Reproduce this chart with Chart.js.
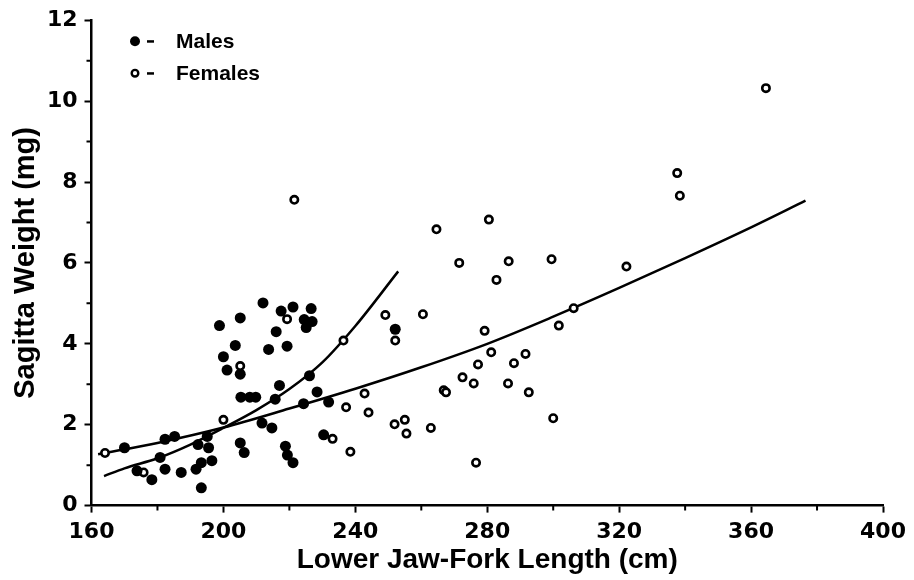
<!DOCTYPE html>
<html>
<head>
<meta charset="utf-8">
<script src="https://cdn.jsdelivr.net/npm/chart.js@4.4.1/dist/chart.umd.min.js"></script>
<style>
  html, body { margin: 0; padding: 0; background: #fff; }
</style>
</head>
<body>
<canvas id="chart" width="914" height="580"></canvas>
<script>
// values
const maleX = [170.0, 182.3, 185.2, 180.8, 173.8, 178.3, 182.3, 187.2, 191.7, 193.3,
  196.5, 195.5, 192.3, 195.1, 193.3, 211.7, 214.7, 205.1, 206.3, 218.8,
  219.4, 221.1, 230.4, 224.3, 212.0, 205.1, 198.8, 217.5, 221.1, 226.6,
  224.5, 226.9, 225.1, 216.0, 203.6, 213.7, 219.3, 200.0, 201.1, 205.1,
  205.3, 208.0, 209.8, 217.0, 215.7, 226.1, 228.4, 231.9, 252.1];
const maleY = [1.43, 1.64, 1.71, 1.19, 0.86, 0.64, 0.90, 0.82, 0.90, 1.06,
  1.11, 1.43, 1.51, 1.71, 0.44, 2.04, 1.92, 1.55, 1.31, 1.47,
  1.25, 1.06, 1.75, 2.52, 5.01, 4.64, 4.45, 4.81, 4.91, 4.87,
  4.60, 4.55, 4.40, 4.30, 3.96, 3.86, 3.94, 3.68, 3.35, 3.25,
  2.68, 2.68, 2.68, 2.97, 2.63, 3.21, 2.81, 2.56, 4.36];

const femaleX = [164.1, 175.8, 200.0, 219.3, 205.1, 221.5, 249.1, 252.1, 236.4, 242.8,
  237.2, 244.0, 251.9, 255.0, 255.5, 233.1, 238.5, 264.6, 280.5, 271.5,
  286.5, 282.8, 299.5, 260.5, 279.2, 306.2, 301.7, 281.2, 291.6, 277.2,
  288.1, 272.5, 275.9, 286.3, 292.6, 266.8, 267.5, 300.0, 276.6, 262.9,
  364.5, 337.6, 338.4, 322.2];
const femaleY = [1.30, 0.82, 2.12, 4.61, 3.45, 7.56, 4.71, 4.08, 4.08, 2.77,
  2.43, 2.30, 2.01, 2.12, 1.78, 1.65, 1.33, 6.83, 7.07, 6.00,
  6.04, 5.58, 6.09, 4.73, 4.32, 4.88, 4.45, 3.79, 3.75, 3.49,
  3.52, 3.17, 3.02, 3.02, 2.80, 2.85, 2.80, 2.16, 1.06, 1.92,
  10.32, 8.22, 7.66, 5.91];

// fitted curves as drawn in the figure
const maleFitX = [163.8, 170, 180, 190, 200, 210, 220, 230, 240, 253];
const maleFitY = [0.73, 0.92, 1.17, 1.51, 1.92, 2.36, 2.88, 3.54, 4.44, 5.79];
const femaleFitX = [162, 180, 200, 220, 240, 260, 280, 300, 320, 340, 360, 376.5];
const femaleFitY = [1.27, 1.55, 1.93, 2.40, 2.89, 3.42, 4.00, 4.67, 5.38, 6.12, 6.88, 7.54];

const xTicks = [160, 200, 240, 280, 320, 360, 400];
const yTicks = [0, 2, 4, 6, 8, 10, 12];
const xMinor = [180, 220, 260, 300, 340, 380];
const yMinor = [1, 3, 5, 7, 9, 11];

function pts(xs, ys) {
  return xs.map((x, i) => ({ x: x, y: ys[i] }));
}

const tickFont = { family: 'DejaVu Sans', size: 22, weight: 'bold' };
const titleFont = { family: 'Liberation Sans', size: 28, weight: 'bold' };

// short ticks at the odd steps, outside the axes
const minorTicks = {
  id: 'minorTicks',
  afterDraw(chart) {
    const ctx = chart.ctx;
    const xs = chart.scales.x, ys = chart.scales.y;
    const area = chart.chartArea;
    ctx.save();
    ctx.strokeStyle = '#000';
    ctx.lineWidth = 2;
    ctx.beginPath();
    xMinor.forEach(v => {
      const px = xs.getPixelForValue(v);
      ctx.moveTo(px, area.bottom);
      ctx.lineTo(px, area.bottom + 5);
    });
    yMinor.forEach(v => {
      const py = ys.getPixelForValue(v);
      ctx.moveTo(area.left, py);
      ctx.lineTo(area.left - 5, py);
    });
    ctx.stroke();
    ctx.restore();
  }
};

// legend in the top left corner of the plot
const cornerLegend = {
  id: 'cornerLegend',
  afterDatasetsDraw(chart) {
    const ctx = chart.ctx;
    const area = chart.chartArea;
    const rows = [chart.data.datasets[0], chart.data.datasets[1]];
    ctx.save();
    ctx.font = 'bold 21px "Liberation Sans"';
    ctx.textBaseline = 'middle';
    ctx.fillStyle = '#000';
    ctx.strokeStyle = '#000';
    rows.forEach((ds, i) => {
      const y = area.top + 21 + i * 32;
      const x = area.left + 43.5;
      ctx.beginPath();
      if (i === 0) {
        ctx.arc(x, y, 5, 0, Math.PI * 2);
        ctx.fill();
      } else {
        ctx.arc(x, y, 3.3, 0, Math.PI * 2);
        ctx.lineWidth = 2.4;
        ctx.stroke();
      }
      ctx.fillRect(x + 12, y - 1, 7, 2.5);
      ctx.fillText(ds.label, x + 41, y + 1);
    });
    ctx.restore();
  }
};

new Chart(document.getElementById('chart'), {
  type: 'scatter',
  data: {
    datasets: [
      {
        label: 'Males',
        data: pts(maleX, maleY),
        pointRadius: 5.5,
        pointBackgroundColor: '#000',
        pointBorderWidth: 0
      },
      {
        label: 'Females',
        data: pts(femaleX, femaleY),
        pointRadius: 3.7,
        pointBackgroundColor: '#fff',
        pointBorderColor: '#000',
        pointBorderWidth: 2.6
      },
      {
        type: 'line',
        label: 'Males fit',
        data: pts(maleFitX, maleFitY),
        borderColor: '#000',
        borderWidth: 2.5,
        pointRadius: 0,
        cubicInterpolationMode: 'monotone',
        fill: false
      },
      {
        type: 'line',
        label: 'Females fit',
        data: pts(femaleFitX, femaleFitY),
        borderColor: '#000',
        borderWidth: 2.5,
        pointRadius: 0,
        cubicInterpolationMode: 'monotone',
        fill: false
      }
    ]
  },
  options: {
    responsive: false,
    animation: false,
    layout: { padding: { top: 12, right: 31, left: 0, bottom: 0 } },
    plugins: {
      legend: { display: false },
      tooltip: { enabled: false }
    },
    scales: {
      x: {
        type: 'linear',
        min: 160,
        max: 400,
        afterBuildTicks: s => { s.ticks = xTicks.map(v => ({ value: v })); },
        afterFit: s => { s.height = 74.4; },
        border: { display: true, color: '#000', width: 2.5 },
        grid: { drawOnChartArea: false, drawTicks: true, tickLength: 7, tickColor: '#000', tickWidth: 2 },
        ticks: { color: '#000', font: tickFont, padding: 6, maxRotation: 0 },
        title: {
          display: true,
          text: 'Lower Jaw-Fork Length (cm)',
          color: '#000',
          font: titleFont,
          padding: { top: 0, bottom: 3 }
        }
      },
      y: {
        type: 'linear',
        min: 0,
        max: 12,
        afterBuildTicks: s => { s.ticks = yTicks.map(v => ({ value: v })); },
        afterFit: s => { s.width = 91.5; },
        border: { display: true, color: '#000', width: 2.5 },
        grid: { drawOnChartArea: false, drawTicks: true, tickLength: 7, tickColor: '#000', tickWidth: 2 },
        ticks: { color: '#000', font: tickFont, padding: 7 },
        title: {
          display: true,
          text: 'Sagitta Weight (mg)',
          color: '#000',
          font: { family: 'Liberation Sans', size: 29, weight: 'bold' },
          padding: { top: 9, bottom: 0 }
        }
      }
    }
  },
  plugins: [minorTicks, cornerLegend]
});
</script>
</body>
</html>
